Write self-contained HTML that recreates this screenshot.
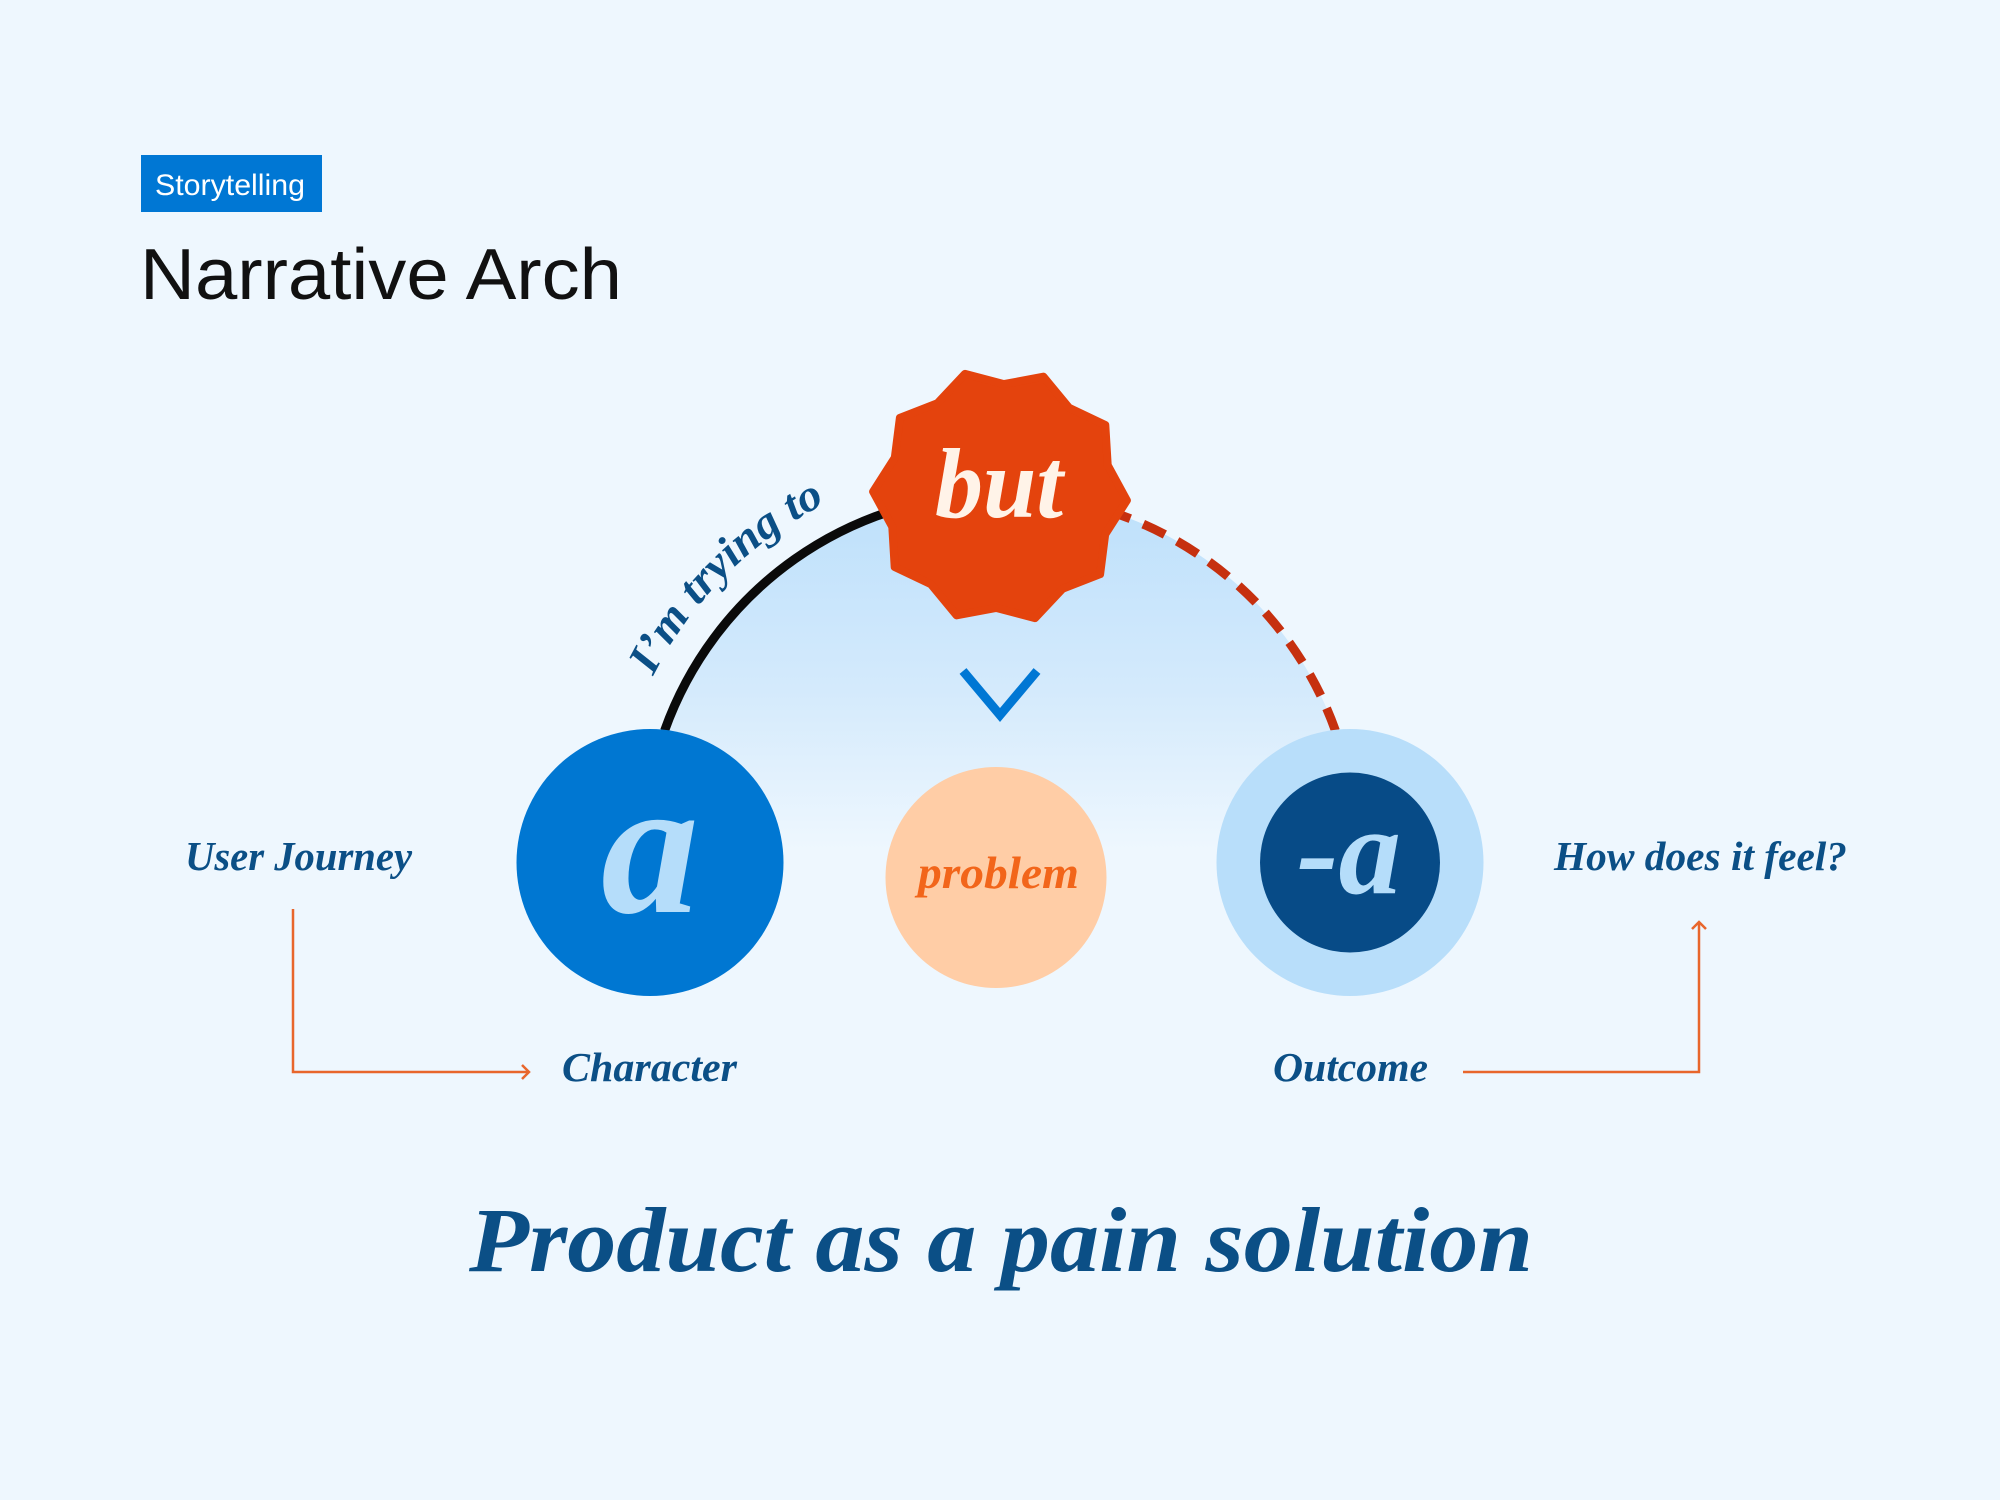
<!DOCTYPE html>
<html>
<head>
<meta charset="utf-8">
<style>
  html, body { margin: 0; padding: 0; }
  body { width: 2000px; height: 1500px; background: #eef7fe; overflow: hidden; }
  svg { display: block; }
</style>
</head>
<body>
<svg width="2000" height="1500" viewBox="0 0 2000 1500" xmlns="http://www.w3.org/2000/svg">
  <defs>
    <linearGradient id="dome" gradientUnits="userSpaceOnUse" x1="0" y1="494" x2="0" y2="850">
      <stop offset="0" stop-color="#bde0fb"/>
      <stop offset="0.55" stop-color="#d4eafc"/>
      <stop offset="1" stop-color="#eef7fe"/>
    </linearGradient>
    <path id="tp" d="M 635.4,717.3 A 388 388 0 0 1 932.6,467.9" fill="none"/>
  </defs>

  <rect x="0" y="0" width="2000" height="1500" fill="#eef7fe"/>

  <!-- Header -->
  <rect x="141" y="155" width="181" height="57" fill="#0077d4"/>
  <text x="155" y="195" font-family="Liberation Sans, sans-serif" font-size="30" fill="#ffffff" textLength="150" lengthAdjust="spacingAndGlyphs">Storytelling</text>
  <text x="140" y="299" font-family="Liberation Sans, sans-serif" font-size="72" fill="#111111" textLength="482" lengthAdjust="spacingAndGlyphs">Narrative Arch</text>

  <!-- Dome fill -->
  <circle cx="1000" cy="850" r="356" fill="url(#dome)"/>

  <!-- Arcs -->
  <path d="M 664.6,730.6 A 356 356 0 0 1 1000,494" fill="none" stroke="#0a0a0a" stroke-width="9"/>
  <path d="M 1335.4,730.6 A 356 356 0 0 0 1000,494" fill="none" stroke="#c6300f" stroke-width="9" stroke-dasharray="24 14"/>

  <!-- Curved text -->
  <text font-family="Liberation Serif, serif" font-style="italic" font-weight="bold" font-size="45" fill="#0b4f86">
    <textPath href="#tp" startOffset="45" textLength="248" lengthAdjust="spacingAndGlyphs">I’m trying to</textPath>
  </text>

  <!-- Star -->
  <polygon fill="#e4430d" stroke="#e4430d" stroke-width="8" stroke-linejoin="round"
    points="965.0,373.9 1003.9,384.1 1043.4,376.7 1069.0,407.7 1105.3,425.0 1107.7,465.1 1126.9,500.4 1105.2,534.3 1100.1,574.2 1062.6,588.8 1035.0,618.1 996.1,607.9 956.6,615.3 931.0,584.3 894.7,567.0 892.3,526.9 873.1,491.6 894.8,457.7 899.9,417.8 937.4,403.2"/>
  <text x="935" y="517" font-family="Liberation Serif, serif" font-style="italic" font-weight="bold" font-size="100" fill="#fff3e8" textLength="128" lengthAdjust="spacingAndGlyphs">but</text>

  <!-- Chevron -->
  <polyline points="963,671 1000,715 1037,671" fill="none" stroke="#0077d4" stroke-width="9" stroke-linejoin="miter"/>

  <!-- Circles -->
  <circle cx="650" cy="862.5" r="133.5" fill="#0077d2"/>
  <text x="650" y="912" text-anchor="middle" font-family="Liberation Serif, serif" font-style="italic" font-weight="bold" font-size="196" fill="#b5ddfa">a</text>

  <circle cx="996" cy="877.5" r="110.5" fill="#ffcda6"/>
  <text x="918" y="888" font-family="Liberation Serif, serif" font-style="italic" font-weight="bold" font-size="46" fill="#f2651a" textLength="161" lengthAdjust="spacingAndGlyphs">problem</text>

  <circle cx="1350" cy="862.5" r="133.5" fill="#b8defa"/>
  <circle cx="1350" cy="862.5" r="90" fill="#074b87"/>
  <text x="1349" y="893" text-anchor="middle" font-family="Liberation Serif, serif" font-style="italic" font-weight="bold" font-size="125" fill="#b5ddfa">-a</text>

  <!-- Side labels -->
  <text x="185" y="870" font-family="Liberation Serif, serif" font-style="italic" font-weight="bold" font-size="41" fill="#0b4f86" textLength="227" lengthAdjust="spacingAndGlyphs">User Journey</text>
  <text x="1554" y="870" font-family="Liberation Serif, serif" font-style="italic" font-weight="bold" font-size="41" fill="#0b4f86" textLength="293" lengthAdjust="spacingAndGlyphs">How does it feel?</text>
  <text x="562" y="1081" font-family="Liberation Serif, serif" font-style="italic" font-weight="bold" font-size="41" fill="#0b4f86" textLength="175" lengthAdjust="spacingAndGlyphs">Character</text>
  <text x="1273" y="1081" font-family="Liberation Serif, serif" font-style="italic" font-weight="bold" font-size="41" fill="#0b4f86" textLength="155" lengthAdjust="spacingAndGlyphs">Outcome</text>

  <!-- Orange connectors -->
  <path d="M 293,909 V 1072 H 529" fill="none" stroke="#e8662c" stroke-width="2.5"/>
  <polyline points="522,1065 529,1072 522,1079" fill="none" stroke="#e8662c" stroke-width="2.5"/>
  <path d="M 1463,1072 H 1699 V 922" fill="none" stroke="#e8662c" stroke-width="2.5"/>
  <polyline points="1692,929 1699,922 1706,929" fill="none" stroke="#e8662c" stroke-width="2.5"/>

  <!-- Bottom title -->
  <text x="469" y="1271" font-family="Liberation Serif, serif" font-style="italic" font-weight="bold" font-size="92" fill="#0b4f86" textLength="1064" lengthAdjust="spacingAndGlyphs">Product as a pain solution</text>
</svg>
</body>
</html>
